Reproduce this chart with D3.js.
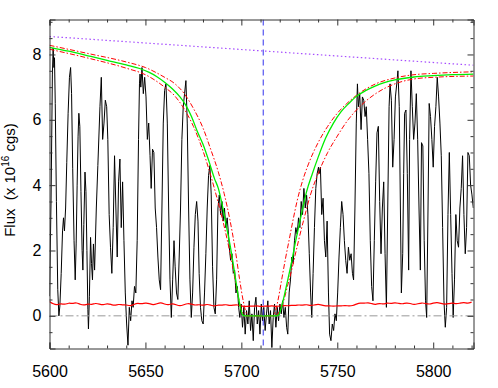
<!DOCTYPE html>
<html lang="en">
<head>
<meta charset="utf-8">
<script src="https://d3js.org/d3.v7.min.js"></script>
<style>
  body { margin: 0; background: #fff; }
  svg text { font-family: "Liberation Sans", Arial, Helvetica, sans-serif; fill: #000; }
  .axis path, .axis line { stroke: #333; }
</style>
</head>
<body>
<svg id="chart" width="498" height="388"></svg>
<script>
// observed spectrum [wavelength, flux]
const spectrum = [
  [5600.0,0.6],[5600.8,3.5],[5601.5,7.4],[5601.9,8.2],[5602.3,7.6],[5602.6,7.9],[5603.0,6.5],[5603.6,3.5],
  [5604.3,0.8],[5604.9,0.0],[5605.4,0.3],[5606.1,1.3],[5606.8,2.6],[5607.3,3.0],[5607.8,2.6],[5608.4,3.3],
  [5609.0,4.7],[5609.7,6.2],[5610.4,7.3],[5611.0,7.6],[5611.5,6.8],[5612.1,4.5],[5612.8,2.3],[5613.4,1.1],
  [5613.9,2.2],[5614.4,4.0],[5614.9,5.5],[5615.3,6.2],[5615.8,5.8],[5616.4,3.8],[5617.0,2.0],[5617.4,1.4],
  [5617.9,2.8],[5618.5,4.4],[5619.0,3.8],[5619.5,2.0],[5620.0,0.2],[5620.3,-0.4],[5620.8,0.6],[5621.4,2.4],
  [5621.9,1.6],[5622.4,1.1],[5622.9,2.2],[5623.5,1.4],[5624.4,3.3],[5625.2,4.6],[5626.3,6.4],[5627.0,7.3],
  [5627.7,5.4],[5628.4,5.9],[5629.1,6.6],[5629.8,6.4],[5630.4,5.4],[5631.1,3.1],[5631.8,2.1],[5632.5,1.3],
  [5633.2,2.7],[5633.9,4.9],[5634.6,3.3],[5635.3,1.8],[5636.0,4.1],[5636.7,4.8],[5637.4,2.7],[5638.1,4.1],
  [5638.8,2.3],[5639.5,0.7],[5640.2,-0.25],[5640.9,-0.9],[5641.6,0.26],[5642.3,-0.15],[5643.0,0.46],[5643.6,0.26],
  [5644.3,0.9],[5645.0,0.7],[5645.7,2.3],[5646.4,5.4],[5646.9,7.1],[5647.2,7.4],[5647.6,7.0],[5648.2,7.6],
  [5648.9,6.8],[5649.6,7.3],[5650.3,6.7],[5651.0,5.4],[5651.7,5.9],[5652.4,4.9],[5653.0,3.9],[5653.7,5.1],
  [5654.4,5.0],[5655.1,3.3],[5655.8,2.7],[5656.5,1.8],[5657.2,1.1],[5657.9,0.8],[5658.6,3.3],[5659.3,5.9],
  [5660.0,6.9],[5660.7,7.1],[5661.4,5.9],[5662.1,3.3],[5662.8,1.1],[5663.5,-0.05],[5664.2,1.1],[5664.9,2.3],
  [5665.5,1.5],[5666.2,0.7],[5666.9,0.5],[5667.6,1.8],[5668.3,3.3],[5669.0,5.4],[5669.7,6.4],[5670.4,6.8],
  [5671.1,7.2],[5671.8,5.9],[5672.5,3.3],[5673.2,1.1],[5673.9,-0.05],[5674.6,0.7],[5675.3,2.1],[5676.0,3.1],
  [5676.7,3.5],[5677.4,2.9],[5678.0,1.3],[5678.7,0.26],[5679.4,-0.15],[5680.1,-0.25],[5680.8,0.7],[5681.5,1.9],
  [5682.2,3.3],[5682.9,4.3],[5683.6,4.6],[5684.3,3.7],[5685.0,1.5],[5685.7,0.26],[5686.4,0.06],[5687.1,1.1],
  [5687.8,3.3],[5688.5,3.7],[5689.2,3.1],[5689.9,3.5],[5690.5,2.9],[5691.2,3.3],[5691.9,2.7],[5692.6,3.0],
  [5693.3,2.5],[5693.7,2.1],[5694.4,1.7],[5695.1,1.9],[5695.8,1.3],[5696.5,1.4],[5697.2,0.7],[5697.9,0.9],
  [5698.6,0.26],[5699.2,-0.05],[5699.9,0.36],[5700.6,-0.35],[5701.3,0.26],[5702.0,-0.56],[5702.7,0.16],[5703.4,-0.25],
  [5704.1,0.46],[5704.8,-0.45],[5705.5,0.06],[5706.2,-0.76],[5706.9,0.26],[5707.6,0.57],[5708.3,-0.25],[5709.0,0.16],
  [5709.7,-0.56],[5710.4,0.36],[5711.1,-0.15],[5711.7,0.26],[5712.4,-0.45],[5713.1,0.06],[5713.8,0.46],[5714.5,-0.25],
  [5715.2,0.16],[5715.9,-0.97],[5716.6,-0.05],[5717.3,0.36],[5718.0,-0.35],[5718.7,0.26],[5719.4,-0.15],[5720.1,0.36],
  [5720.8,0.06],[5721.5,0.46],[5722.2,-0.05],[5722.9,0.26],[5723.6,-0.35],[5724.2,-0.56],[5724.9,0.7],[5725.6,1.1],
  [5726.3,1.8],[5727.0,1.6],[5727.7,2.3],[5728.4,2.7],[5729.1,2.5],[5729.8,3.0],[5730.5,2.7],[5731.2,3.5],
  [5731.9,3.1],[5732.6,3.9],[5733.3,3.3],[5734.0,3.7],[5734.7,3.1],[5735.4,1.9],[5736.1,0.7],[5736.7,-0.05],
  [5737.4,1.3],[5738.1,2.7],[5738.8,3.9],[5739.5,4.35],[5740.2,4.55],[5740.5,4.35],[5741.2,4.55],[5741.9,3.1],
  [5742.6,3.6],[5743.3,2.3],[5744.0,1.8],[5744.7,2.9],[5745.4,0.7],[5746.0,-0.56],[5746.7,-0.76],[5747.4,-0.25],
  [5748.1,-0.45],[5748.8,0.06],[5749.5,-0.15],[5750.2,0.7],[5750.9,1.8],[5751.6,2.7],[5752.3,3.5],[5753.0,3.1],
  [5753.7,2.3],[5754.4,1.7],[5755.1,1.3],[5755.8,2.1],[5756.5,1.7],[5757.2,1.9],[5757.9,1.3],[5758.5,1.1],
  [5759.2,3.3],[5759.9,5.9],[5760.5,7.1],[5761.0,6.4],[5761.7,6.8],[5762.4,5.7],[5763.1,6.7],[5763.8,6.6],
  [5764.5,6.1],[5765.1,6.4],[5765.8,5.4],[5766.5,4.35],[5767.2,2.3],[5767.9,0.9],[5768.6,0.46],[5769.3,2.3],
  [5770.0,4.1],[5770.7,5.6],[5771.4,5.8],[5772.1,3.5],[5772.8,1.9],[5773.5,3.3],[5774.2,4.1],[5774.9,1.9],
  [5775.6,0.26],[5776.3,3.3],[5777.0,6.4],[5777.5,7.1],[5778.2,6.6],[5778.9,4.55],[5779.6,5.4],[5780.3,6.7],
  [5781.0,7.1],[5781.6,7.5],[5782.3,6.4],[5782.9,3.3],[5783.4,0.7],[5784.1,1.9],[5784.6,4.35],[5785.1,6.2],
  [5785.8,6.3],[5786.5,4.35],[5787.2,1.4],[5787.7,5.4],[5788.4,7.5],[5789.1,6.4],[5789.8,5.4],[5790.5,5.9],
  [5791.2,6.8],[5791.9,5.4],[5792.6,3.3],[5793.3,1.4],[5793.9,5.3],[5794.6,5.2],[5795.3,2.3],[5796.0,0.46],
  [5796.6,-0.05],[5797.3,3.3],[5797.9,6.5],[5798.6,6.1],[5799.3,5.4],[5800.0,4.55],[5800.7,5.8],[5801.4,6.4],
  [5802.1,7.3],[5802.8,6.7],[5803.5,5.9],[5804.2,4.9],[5804.9,2.7],[5805.6,0.46],[5806.3,-0.35],[5807.0,0.26],
  [5807.7,3.1],[5808.4,5.0],[5809.1,3.1],[5809.8,1.3],[5810.4,-0.05],[5811.1,1.1],[5811.8,3.1],[5812.5,2.3],
  [5813.2,2.1],[5813.9,3.3],[5814.6,3.9],[5815.3,4.9],[5816.0,3.1],[5816.7,1.9],[5817.4,2.7],[5818.1,5.0],
  [5818.8,4.9],[5819.5,4.0],[5820.2,3.7],[5820.9,3.3]
];

// best-fit damped profile and its +/- 1 sigma curves
const fitModel = [
  [5600,8.22],[5610,8.10],[5620,7.96],[5630,7.82],[5640,7.68],[5647,7.57],[5652,7.45],[5656,7.32],
  [5660,7.15],[5664,6.95],[5668,6.70],[5671,6.45],[5674,6.10],[5677,5.65],[5680,5.25],[5683,4.75],
  [5686,4.20],[5688,3.90],[5690,3.40],[5692,2.80],[5694,2.20],[5696,1.50],[5698,0.75],[5699.5,0.25],
  [5700.8,0.02],[5702,0],[5718,0],[5719.5,0.03],[5721,0.30],[5722.5,0.65],[5724,1.05],[5726,1.60],
  [5728,2.20],[5730,2.75],[5732,3.30],[5734,3.80],[5737,4.35],[5740,4.85],[5744,5.45],[5748,5.90],
  [5752,6.25],[5756,6.50],[5760,6.72],[5765,6.90],[5770,7.04],[5780,7.22],[5790,7.31],[5800,7.35],
  [5810,7.38],[5821,7.40]
];
const fitUpper = [
  [5600,8.28],[5620,8.03],[5640,7.77],[5650,7.60],[5660,7.30],[5665,7.12],[5670,6.82],[5675,6.35],
  [5680,5.75],[5684,5.10],[5688,4.40],[5691,3.75],[5694,2.95],[5697,1.95],[5699,1.15],[5701,0.45],
  [5702.5,0.10],[5704,0],[5716,0],[5717.5,0.10],[5719,0.45],[5721,1.10],[5723,1.75],[5725,2.35],
  [5727,2.95],[5729,3.50],[5732,4.15],[5735,4.65],[5740,5.30],[5745,5.80],[5750,6.20],[5755,6.50],
  [5760,6.75],[5770,7.10],[5780,7.28],[5790,7.38],[5800,7.42],[5821,7.47]
];
const fitLower = [
  [5600,8.16],[5620,7.89],[5640,7.58],[5650,7.38],[5660,7.00],[5665,6.75],[5670,6.35],[5675,5.80],
  [5680,5.05],[5684,4.30],[5688,3.45],[5691,2.75],[5694,1.95],[5696,1.35],[5698,0.70],[5700,0.20],
  [5701.5,0.03],[5702.5,0],[5717,0],[5718.5,0.03],[5720,0.15],[5722,0.45],[5724,0.90],[5726,1.35],
  [5728,1.85],[5730,2.35],[5733,3.05],[5736,3.70],[5740,4.35],[5745,5.00],[5750,5.50],[5755,5.95],
  [5760,6.30],[5770,6.80],[5780,7.10],[5790,7.25],[5800,7.30],[5821,7.34]
];

// unabsorbed continuum (dotted)
const continuum = [[5600,8.55],[5821,7.67]];

// 1-sigma error spectrum
const noise = [
  [5600,0.44],[5602,0.36],[5604,0.33],[5606,0.38],[5608,0.34],[5610,0.40],[5612,0.37],[5614,0.41],
  [5616,0.35],[5618,0.32],[5620,0.37],[5622,0.34],[5624,0.39],[5626,0.36],[5628,0.33],[5630,0.38],
  [5632,0.35],[5634,0.31],[5636,0.36],[5638,0.33],[5640,0.34],[5642,0.30],[5644,0.35],[5646,0.39],
  [5648,0.36],[5650,0.40],[5652,0.38],[5654,0.33],[5656,0.37],[5658,0.41],[5660,0.36],[5662,0.33],
  [5664,0.38],[5666,0.34],[5668,0.30],[5670,0.34],[5672,0.38],[5674,0.36],[5676,0.32],[5678,0.35],
  [5680,0.31],[5682,0.36],[5684,0.33],[5686,0.29],[5688,0.34],[5690,0.32],[5692,0.35],[5694,0.31],
  [5696,0.33],[5698,0.34],[5700,0.30],[5702,0.28],[5704,0.30],[5706,0.29],[5708,0.31],[5710,0.28],
  [5712,0.30],[5714,0.29],[5716,0.31],[5718,0.28],[5720,0.30],[5722,0.32],[5724,0.30],[5726,0.33],
  [5728,0.31],[5730,0.34],[5732,0.32],[5734,0.35],[5736,0.31],[5738,0.33],[5740,0.36],[5742,0.33],
  [5744,0.30],[5746,0.31],[5748,0.29],[5750,0.31],[5752,0.30],[5754,0.32],[5756,0.30],[5758,0.31],
  [5760,0.36],[5762,0.40],[5764,0.38],[5766,0.41],[5768,0.37],[5770,0.34],[5772,0.39],[5774,0.35],
  [5776,0.40],[5778,0.37],[5780,0.41],[5782,0.38],[5784,0.36],[5786,0.40],[5788,0.38],[5790,0.34],
  [5792,0.37],[5794,0.40],[5796,0.38],[5798,0.35],[5800,0.39],[5802,0.41],[5804,0.38],[5806,0.35],
  [5808,0.37],[5810,0.40],[5812,0.36],[5814,0.39],[5816,0.41],[5818,0.38],[5820,0.42]
];

const lineCentre = 5711.4;
const xMajor = [5600, 5650, 5700, 5750, 5800];
const yMajor = [0, 2, 4, 6, 8];

const svg = d3.select("#chart");
const pLeft = 49.5, pRight = 473.5, pTop = 19.5, pBottom = 348.5;

const x = d3.scaleLinear().domain([5600, 5821]).range([pLeft, pRight]);
const y = d3.scaleLinear().domain([-1, 9.07]).range([pBottom, pTop]);

svg.append("defs").append("clipPath").attr("id", "plotclip")
  .append("rect").attr("x", pLeft).attr("y", pTop)
  .attr("width", pRight - pLeft).attr("height", pBottom - pTop);

const plot = svg.append("g").attr("clip-path", "url(#plotclip)");

const line = d3.line().x(d => x(d[0])).y(d => y(d[1]));
const smooth = d3.line().x(d => x(d[0])).y(d => y(d[1])).curve(d3.curveMonotoneX);

// spectrum
plot.append("path").datum(spectrum)
  .attr("d", line).attr("fill", "none")
  .attr("stroke", "#000").attr("stroke-width", 1);

// zero level
plot.append("path").datum([[5600, 0], [5821, 0]])
  .attr("d", line).attr("fill", "none")
  .attr("stroke", "#999").attr("stroke-width", 1)
  .attr("stroke-dasharray", "8,3,2,3");

// error spectrum
plot.append("path").datum(noise)
  .attr("d", d3.line().x(d => x(d[0])).y(d => y(d[1])).curve(d3.curveBasis))
  .attr("fill", "none").attr("stroke", "#ff0000").attr("stroke-width", 1.2);

// continuum
plot.append("path").datum(continuum)
  .attr("d", line).attr("fill", "none")
  .attr("stroke", "#a64dff").attr("stroke-width", 1.2)
  .attr("stroke-dasharray", "1.5,2.5");

// fits
[fitUpper, fitLower].forEach(function (f) {
  plot.append("path").datum(f)
    .attr("d", smooth).attr("fill", "none")
    .attr("stroke", "#ff0000").attr("stroke-width", 1)
    .attr("stroke-dasharray", "5,2,1.5,2");
});
plot.append("path").datum(fitModel)
  .attr("d", smooth).attr("fill", "none")
  .attr("stroke", "#00ee00").attr("stroke-width", 1.3);

// line centre
plot.append("line")
  .attr("x1", x(lineCentre)).attr("x2", x(lineCentre))
  .attr("y1", pTop).attr("y2", pBottom)
  .attr("stroke", "#3333ee").attr("stroke-width", 1)
  .attr("stroke-dasharray", "6,4");

// axes
const xMinor = d3.range(5610, 5821, 10).filter(v => v % 50 !== 0);
const yMinor = d3.range(-0.5, 9.01, 0.5).filter(v => v % 2 !== 0);

svg.append("g").attr("class", "axis").attr("transform", `translate(0,${pBottom})`)
  .call(d3.axisBottom(x).tickValues(xMajor).tickSize(-6).tickPadding(17).tickFormat(d3.format("d")))
  .call(g => g.selectAll("text").style("font-size", "16px"));
svg.append("g").attr("class", "axis").attr("transform", `translate(0,${pBottom})`)
  .call(d3.axisBottom(x).tickValues(xMinor).tickSize(-3).tickFormat(""))
  .call(g => g.select(".domain").remove());
svg.append("g").attr("class", "axis").attr("transform", `translate(0,${pTop})`)
  .call(d3.axisTop(x).tickValues(xMajor).tickSize(-6).tickFormat(""));
svg.append("g").attr("class", "axis").attr("transform", `translate(0,${pTop})`)
  .call(d3.axisTop(x).tickValues(xMinor).tickSize(-3).tickFormat(""))
  .call(g => g.select(".domain").remove());

svg.append("g").attr("class", "axis").attr("transform", `translate(${pLeft},0)`)
  .call(d3.axisLeft(y).tickValues(yMajor).tickSize(-6).tickPadding(8).tickFormat(d3.format("d")))
  .call(g => g.selectAll("text").style("font-size", "16px"));
svg.append("g").attr("class", "axis").attr("transform", `translate(${pLeft},0)`)
  .call(d3.axisLeft(y).tickValues(yMinor).tickSize(-3).tickFormat(""))
  .call(g => g.select(".domain").remove());
svg.append("g").attr("class", "axis").attr("transform", `translate(${pRight},0)`)
  .call(d3.axisRight(y).tickValues(yMajor).tickSize(-6).tickFormat(""));
svg.append("g").attr("class", "axis").attr("transform", `translate(${pRight},0)`)
  .call(d3.axisRight(y).tickValues(yMinor).tickSize(-3).tickFormat(""))
  .call(g => g.select(".domain").remove());

svg.selectAll(".axis .domain").attr("stroke", "#333");

// y title
const title = svg.append("text")
  .attr("transform", "translate(15,180) rotate(-90)")
  .attr("text-anchor", "middle")
  .style("font-size", "15px");
title.append("tspan").text("Flux\u00a0\u00a0(x 10");
title.append("tspan").attr("dy", -6).style("font-size", "10px").text("16");
title.append("tspan").attr("dy", 6).text(" cgs)");
</script>
</body>
</html>
